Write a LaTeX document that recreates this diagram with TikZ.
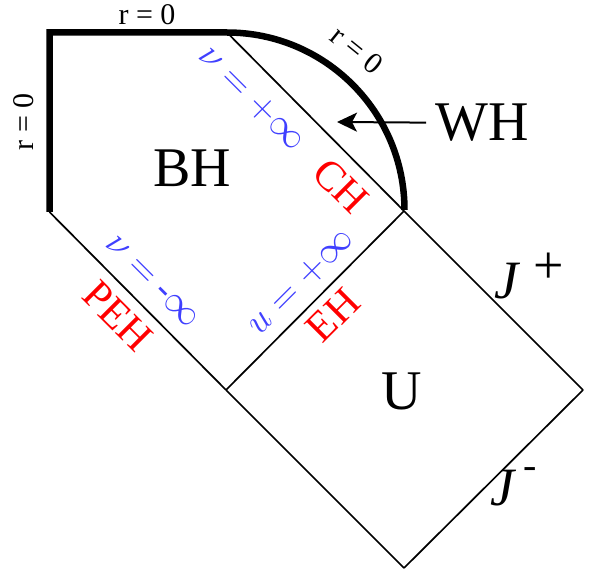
\RequirePackage{fix-cm}
\documentclass[tikz,border=0pt]{standalone}
\usepackage{fontspec}
\setmainfont{Liberation Serif}
\usetikzlibrary{arrows.meta,positioning,calc}

\definecolor{lblblue}{RGB}{64,64,255}
\definecolor{lblred}{RGB}{255,0,0}

\begin{document}
\begin{tikzpicture}[x=1pt,y=-1pt]
        \tikzstyle{every node}=[inner sep=0pt]
        \tikzstyle{wall}=[line width=6.5pt,line join=miter]
        \tikzstyle{horizon}=[line width=1.7pt]
        \tikzstyle{region}=[font=\fontsize{56}{60}\selectfont]
        \tikzstyle{coordlbl}=[font=\fontsize{38}{42}\selectfont,text=lblblue]
        \tikzstyle{horlbl}=[font=\fontsize{42}{46}\selectfont,text=lblred]
        \tikzstyle{rlbl}=[font=\fontsize{30}{34}\selectfont]
        \tikzstyle{scrilbl}=[font=\fontsize{54}{58}\selectfont,anchor=base west]
        \useasboundingbox (0,0) rectangle (598,580);

        %%% Corners
        \coordinate (tl) at (49.5,32.5);
        \coordinate (tm) at (227,32.5);
        \coordinate (lm) at (49.5,212);
        \coordinate (top) at (404,211);
        \coordinate (mid) at (226,390);
        \coordinate (right) at (583,390);
        \coordinate (bot) at (404,568);
        \coordinate (whtip) at (337,122);

        %%% Horizons and infinities
        \draw[horizon] (tm) edge (top);
        \draw[horizon] (lm) edge (mid);
        \draw[horizon] (mid) edge (bot);
        \draw[horizon] (mid) edge (top);
        \draw[horizon] (top) edge (right);
        \draw[horizon] (right) edge (bot);

        %%% Singularity r = 0
        \draw[wall] (lm) -- (tl) -- (tm) arc[start angle=270,end angle=360,radius=177.5];

        %%% Regions
        \node[region] (bh) at (192,168) {BH};
        \node[region] (u) at (402,391) {U};
        \node[region,inner xsep=9pt] (wh) at (482,123) {WH};
        \draw[line width=2pt,-{Stealth[length=20pt,width=19pt,inset=5pt]}] (wh) -- (whtip);

        %%% r = 0 labels
        \node[rlbl] (rtop) at (147,15) {r = 0};
        \node[rlbl,rotate=90] (rleft) at (24,122) {r = 0};
        \node[rlbl,rotate=-39] (rarc) at (357,50) {r = 0};

        %%% Coordinate values
        \node[coordlbl,rotate=-45] (nuplus) at (252,98) {$\nu = +\infty$};
        \node[coordlbl,rotate=-45] (numinus) at (152,282) {$\nu =$ -$\infty$};
        \node[coordlbl,rotate=45] (uplus) at (301,282) {$u = +\infty$};

        %%% Horizon names
        \node[horlbl,rotate=-45] (ch) at (341,186) {CH};
        \node[horlbl,rotate=-45] (peh) at (118,316) {PEH};
        \node[horlbl,rotate=45] (eh) at (333,315) {EH};

        %%% Null infinities
        \node[scrilbl] (scriplus) at (494,299) {{\itshape J}\hspace{15pt}\raisebox{15pt}{+}};
        \node[scrilbl] (scriminus) at (490,506) {{\itshape J}\hspace{9pt}{\fontsize{40}{40}\selectfont\raisebox{28pt}{-}}};
    \end{tikzpicture}
\end{document}
